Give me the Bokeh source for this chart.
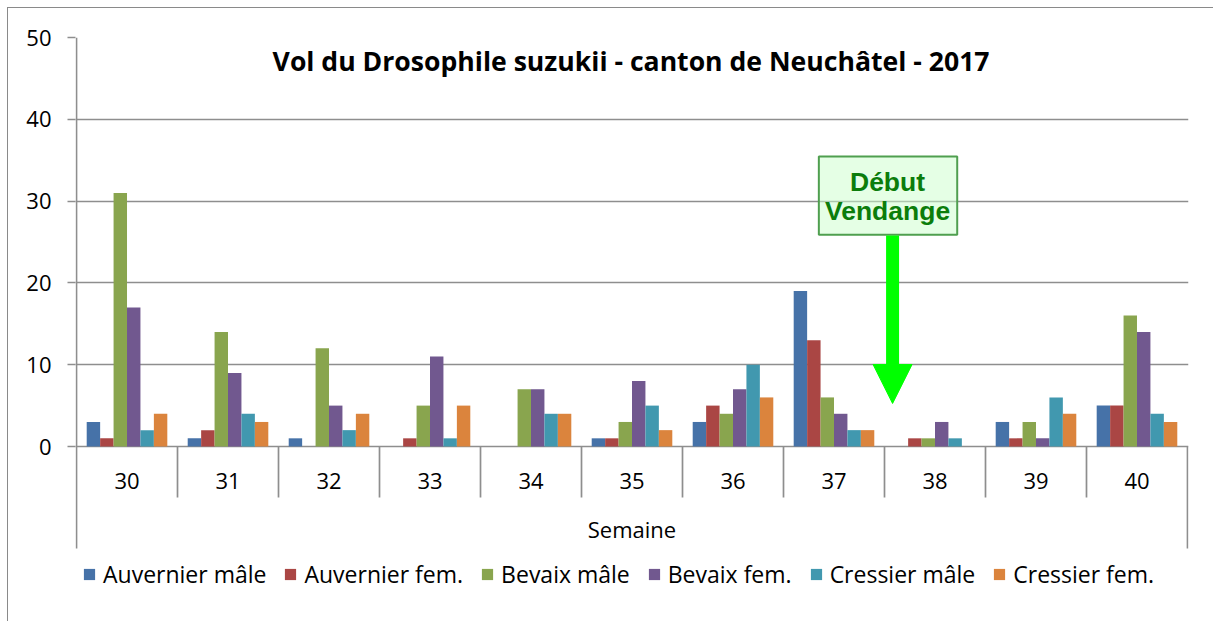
from bokeh.plotting import figure
from bokeh.models import Range1d, FixedTicker, Legend, LegendItem, Arrow, NormalHead
from bokeh.core.properties import value
from bokeh.embed import file_html
from bokeh.resources import INLINE

# ---------------- data ----------------
weeks = ["30", "31", "32", "33", "34", "35", "36", "37", "38", "39", "40"]
series_names = ["Auvernier mâle", "Auvernier fem.", "Bevaix mâle", "Bevaix fem.",
                "Cressier mâle", "Cressier fem."]
auvernier_male = [3, 1, 1, 0, 0, 1, 3, 19, 0, 3, 5]
auvernier_fem = [1, 2, 0, 1, 0, 1, 5, 13, 1, 1, 5]
bevaix_male = [31, 14, 12, 5, 7, 3, 4, 6, 1, 3, 16]
bevaix_fem = [17, 9, 5, 11, 7, 8, 7, 4, 3, 1, 14]
cressier_male = [2, 4, 2, 1, 4, 5, 10, 2, 1, 6, 4]
cressier_fem = [4, 3, 4, 5, 4, 2, 6, 2, 0, 4, 3]
y_ticks = [0, 10, 20, 30, 40, 50]
title_text = "Vol du Drosophile suzukii  - canton de Neuchâtel - 2017"
x_axis_title = "Semaine"
annotation_text = ["Début", "Vendange"]

# ---------------- style ----------------
colors = ["#4672A8", "#AA4644", "#89A54E", "#71588F", "#4198AF", "#DB843D"]
GRID = "#8e8e8e"
FONT = "Open Sans"
BW = 0.133          # bar width as fraction of a category
PX_PER_UNIT = 8.18  # vertical scale (px per count)
FRAME_H = 584
Y_MAX = 50
Y_MIN = Y_MAX - FRAME_H / PX_PER_UNIT   # frame extends below zero (category + legend area)
CAT_BOTTOM = -102 / PX_PER_UNIT         # end of the outer category lines

series = [auvernier_male, auvernier_fem, bevaix_male, bevaix_fem, cressier_male, cressier_fem]
n = len(weeks)

p = figure(frame_width=1113, frame_height=FRAME_H, output_backend="svg", toolbar_location=None,
           x_range=Range1d(-0.01, n + 0.01), y_range=Range1d(Y_MIN, Y_MAX),
           x_axis_location=None,
           min_border_left=75, min_border_right=25, min_border_top=37, min_border_bottom=0)
p.outline_line_color = None
p.xgrid.grid_line_color = None
p.background_fill_color = "white"
p.border_fill_color = "white"
p.border_fill_alpha = 0
p.styles = {"box-shadow": "inset 7px 7px 0 0 white, inset 8px 8px 0 0 #8a8a8a"}

# y axis & grid
p.yaxis.ticker = FixedTicker(ticks=y_ticks)
p.ygrid.ticker = FixedTicker(ticks=y_ticks)
p.ygrid.grid_line_color = GRID
p.ygrid.grid_line_width = 1.7
p.yaxis.axis_line_color = None
p.yaxis.major_tick_line_color = GRID
p.yaxis.major_tick_line_width = 1.7
p.yaxis.major_tick_out = 8
p.yaxis.major_tick_in = 0
p.yaxis.minor_tick_line_color = None
p.yaxis.major_label_standoff = 16
p.yaxis.major_label_text_font = FONT
p.yaxis.major_label_text_font_size = "22px"
p.yaxis.major_label_text_color = "black"

# bars
renderers = []
for k, (vals, col) in enumerate(zip(series, colors)):
    xs = [i + 0.5 + (k - 2.5) * BW for i in range(n)]
    r = p.vbar(x=xs, top=vals, bottom=0, width=BW, fill_color=col, line_color=None)
    renderers.append(r)

# value axis line and category separators
inner_len = -51 / PX_PER_UNIT
bounds = list(range(0, n + 1))
p.segment(x0=bounds, y0=[0] * len(bounds), x1=bounds,
          y1=[inner_len if 0 < b < n else CAT_BOTTOM for b in bounds],
          line_color=GRID, line_width=1.7)
p.segment(x0=[0], y0=[0], x1=[0], y1=[Y_MAX], line_color=GRID, line_width=1.7)

# category labels and axis title
p.text(x=[i + 0.5 for i in range(n)], y=[-34 / PX_PER_UNIT] * n, text=weeks,
       text_align="center", text_baseline="middle",
       text_font=value(FONT), text_font_size="22px", text_color="black")
p.text(x=[n / 2], y=[-82 / PX_PER_UNIT], text=[x_axis_title],
       text_align="center", text_baseline="middle",
       text_font=value(FONT), text_font_size="22px", text_color="black")

# chart title inside plot area
p.text(x=[5.525], y=[47.1], text=[title_text],
       text_align="center", text_baseline="middle",
       text_font=value(FONT), text_font_size="26.6px", text_font_style="bold",
       text_color="black")

# annotation: "Début Vendange" box and arrow
box_cx = 8.03
p.quad(left=[7.35], right=[8.72], top=[35.45], bottom=[25.9],
       fill_color="#ccffcc", fill_alpha=0.5, line_color="#4f9f4f", line_width=2)
p.text(x=[box_cx, box_cx], y=[32.3, 28.85], text=annotation_text,
       text_align="center", text_baseline="middle",
       text_font=value("Liberation Sans"), text_font_size="26.5px",
       text_font_style="bold", text_color="#0b7d0b")
p.add_layout(Arrow(end=NormalHead(size=39, fill_color="#00ff00", line_color="#00ff00"),
                   x_start=8.08, y_start=25.8, x_end=8.08, y_end=5.26,
                   line_color="#00ff00", line_width=13))

# legend (inside the extended frame, below the category area)
legend = Legend(items=[LegendItem(label=nm, renderers=[r]) for nm, r in zip(series_names, renderers)],
                orientation="horizontal", location=(7, 31))
legend.label_text_font = FONT
legend.label_text_font_size = "23px"
legend.label_text_color = "black"
legend.glyph_width = 14
legend.glyph_height = 14
legend.label_standoff = 7
legend.spacing = 17
legend.padding = 0
legend.margin = 0
legend.border_line_color = None
legend.background_fill_alpha = 0
p.add_layout(legend, "center")

open("out.html", "w").write(file_html(p, INLINE))
